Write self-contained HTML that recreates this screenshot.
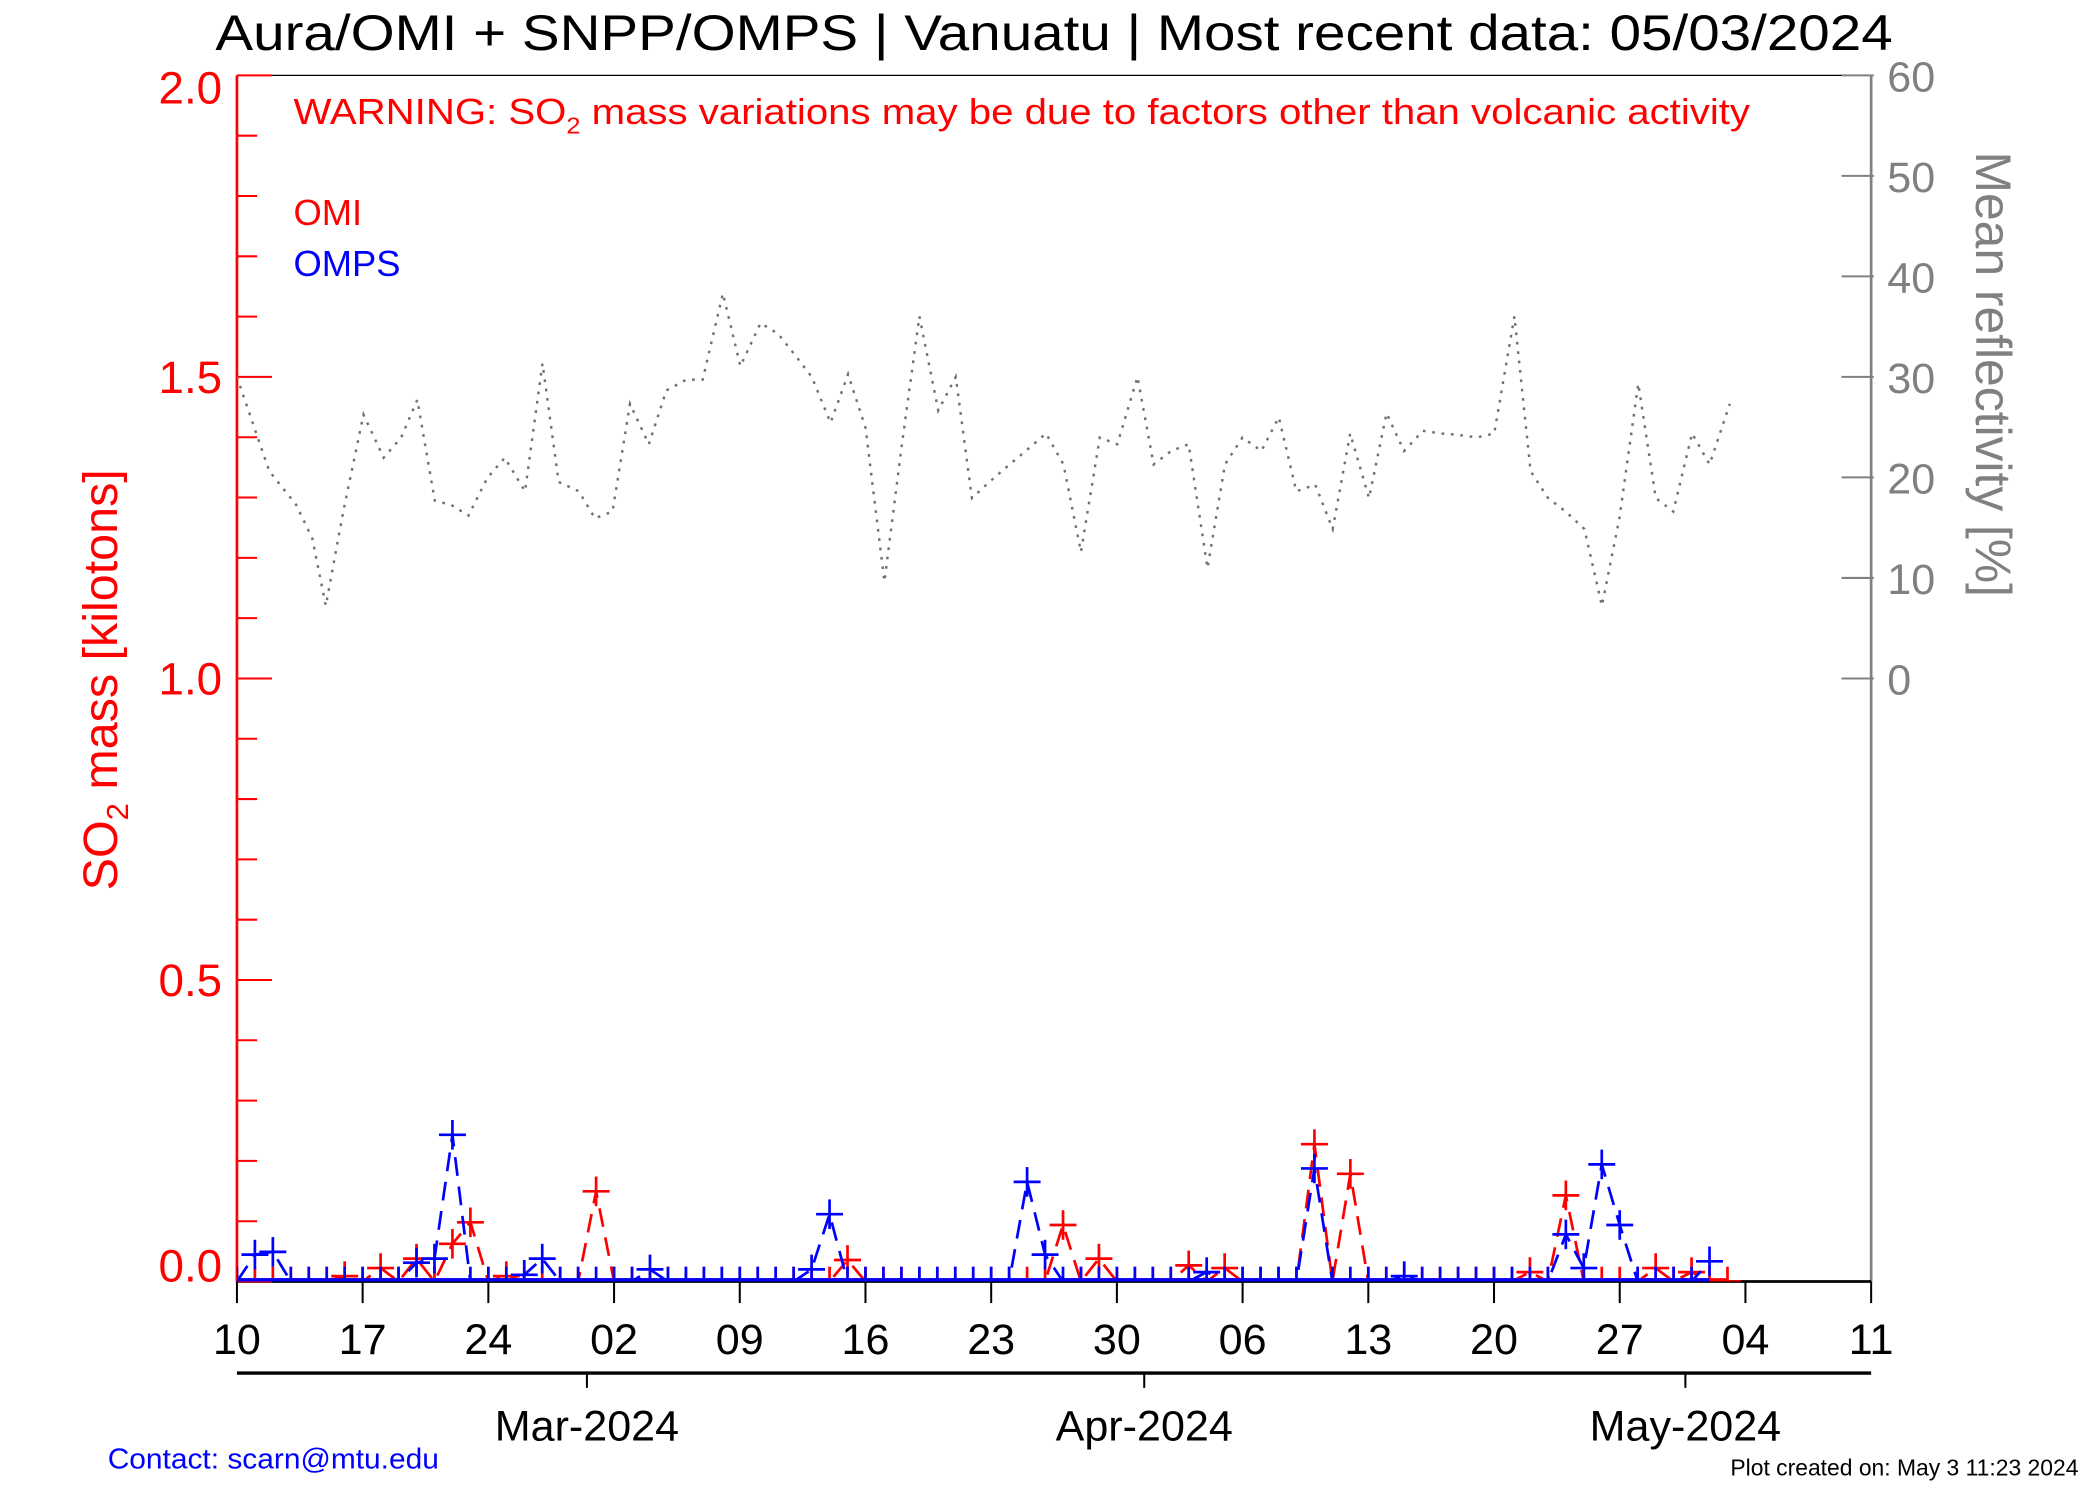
<!DOCTYPE html>
<html><head><meta charset="utf-8"><style>
html,body{margin:0;padding:0;background:#fff;}
svg{display:block;font-family:"Liberation Sans",sans-serif;}
</style></head><body>
<svg id="s" width="2100" height="1500" viewBox="0 0 1560 1114.3" xmlns="http://www.w3.org/2000/svg">
<defs><clipPath id="c"><rect x="176" y="40" width="1214" height="912"/></clipPath></defs>
<rect width="1560" height="1115" fill="#fff"/>
<text x="160" y="37" font-size="37" textLength="1246" lengthAdjust="spacingAndGlyphs" fill="#000">Aura/OMI + SNPP/OMPS | Vanuatu | Most recent data: 05/03/2024</text>
<g id="axes"></g>
<g id="data" clip-path="url(#c)"></g>
<text x="218" y="92" font-size="27" textLength="1082" lengthAdjust="spacingAndGlyphs" fill="#f00">WARNING: SO<tspan font-size="17" dy="7">2</tspan><tspan dy="-7"> mass variations may be due to factors other than volcanic activity</tspan></text>
<text x="218" y="167" font-size="27" fill="#f00">OMI</text>
<text x="218" y="205" font-size="27" fill="#00f">OMPS</text>
<text transform="translate(87,505) rotate(-90)" font-size="36" text-anchor="middle" fill="#f00">SO<tspan font-size="23" dy="8">2</tspan><tspan dy="-8"> mass [kilotons]</tspan></text>
<text transform="translate(1468,278) rotate(90)" font-size="37" text-anchor="middle" fill="#808080">Mean reflectivity [%]</text>
<text x="80" y="1091" font-size="21" textLength="246" lengthAdjust="spacingAndGlyphs" fill="#00f">Contact: scarn@mtu.edu</text>
<text x="1544" y="1096" font-size="17" text-anchor="end" fill="#000">Plot created on: May  3 11:23 2024</text>
</svg>
<script>
var NS="http://www.w3.org/2000/svg";
function el(p,t,a,txt){var e=document.createElementNS(NS,t);for(var k in a)e.setAttribute(k,a[k]);if(txt!==undefined)e.textContent=txt;p.appendChild(e);return e;}
var ax=document.getElementById('axes'),dg=document.getElementById('data');
var X0=176,X1=1390,Y0=952,pd=(X1-X0)/91;
el(ax,'line',{x1:X0,y1:56,x2:X1,y2:56,stroke:'#000','stroke-width':1});
el(ax,'line',{x1:X1,y1:56,x2:X1,y2:Y0,stroke:'#808080','stroke-width':2});
el(ax,'line',{x1:X0,y1:Y0,x2:X1,y2:Y0,stroke:'#000','stroke-width':2});
el(ax,'line',{x1:X0,y1:56,x2:X0,y2:Y0,stroke:'#f00','stroke-width':2});
for(var i=0;i<=20;i++){var y=Y0-i*44.8;var L=(i%5==0)?26:15;el(ax,'line',{x1:X0,y1:y,x2:X0+L,y2:y,stroke:'#f00','stroke-width':1.5});}
[["2.0",65],["1.5",280],["1.0",504],["0.5",728],["0.0",940]].forEach(function(a){el(ax,'text',{x:165,y:a[1]+12,'font-size':34,'text-anchor':'end',fill:'#f00'},a[0]);});
for(var r=0;r<=60;r+=10){var y=504-r*7.467;el(ax,'line',{x1:X1-22,y1:y,x2:X1+2,y2:y,stroke:'#808080','stroke-width':1.5});el(ax,'text',{x:1402,y:y+12,'font-size':32,fill:'#808080'},String(r));}
var lab=["10","17","24","02","09","16","23","30","06","13","20","27","04","11"];
for(var i=0;i<14;i++){var x=X0+i*7*pd;el(ax,'line',{x1:x,y1:Y0,x2:x,y2:Y0+16,stroke:'#000','stroke-width':1.5});el(ax,'text',{x:x,y:1006,'font-size':32,'text-anchor':'middle'},lab[i]);}
el(ax,'line',{x1:X0,y1:1020,x2:X1,y2:1020,stroke:'#000','stroke-width':2.5});
[["Mar-2024",436],["Apr-2024",850],["May-2024",1252]].forEach(function(a){el(ax,'line',{x1:a[1],y1:1020,x2:a[1],y2:1031,stroke:'#000','stroke-width':1.5});el(ax,'text',{x:a[1],y:1070,'font-size':32,'text-anchor':'middle'},a[0]);});
var refl=[[176,280],[200,350],[220,375],[232,400],[242,450],[255,380],[270,308],[285,340],[298,325],[310,297],[323,372],[335,375],[348,383],[362,355],[375,340],[390,365],[403,270],[415,358],[430,365],[442,385],[455,380],[468,300],[482,330],[495,290],[510,282],[522,282],[537,218],[550,272],[565,240],[578,248],[590,263],[603,280],[617,314],[630,278],[643,318],[657,432],[670,330],[683,235],[697,305],[710,280],[722,370],[735,358],[750,345],[762,335],[777,322],[790,345],[803,410],[817,325],[830,330],[845,280],[857,345],[870,335],[883,330],[897,422],[910,345],[923,325],[937,335],[950,310],[963,365],[977,360],[990,393],[1003,322],[1017,370],[1030,307],[1043,335],[1057,320],[1070,322],[1083,323],[1097,325],[1110,322],[1125,235],[1137,350],[1150,370],[1163,380],[1177,393],[1190,450],[1203,385],[1217,285],[1230,370],[1243,380],[1257,322],[1270,345],[1285,300]];
el(dg,'polyline',{points:refl.map(function(p){return p.join(',')}).join(' '),fill:'none',stroke:'#707070','stroke-width':1.8,'stroke-dasharray':'2 5'});
function series(peaks,col,n){var pts=[];for(var d=0;d<=n;d++){var y=peaks[d]!==undefined?peaks[d]:Y0;pts.push([X0+d*pd,y]);}
el(dg,'polyline',{points:pts.map(function(p){return p.join(',')}).join(' '),fill:'none',stroke:col,'stroke-width':2,'stroke-dasharray':'14 8'});
el(dg,'line',{x1:X0,y1:Y0-1,x2:X0+n*pd,y2:Y0-1,stroke:col,'stroke-width':3});
pts.forEach(function(p){el(dg,'line',{x1:p[0]-10,y1:p[1],x2:p[0]+10,y2:p[1],stroke:col,'stroke-width':2});el(dg,'line',{x1:p[0],y1:p[1]-11,x2:p[0],y2:p[1]+11,stroke:col,'stroke-width':2});});}
series({6:948,8:942,10:935,12:924,13:908,15:948,20:885,34:936,46:910,48:935,53:940,55:942,60:850,62:872,72:945,74:888,79:942,81:945},'#f00',83);
series({1:932,2:930,10:938,11:935,12:843,16:947,17:935,23:943,32:943,33:902,44:878,45:932,54:945,60:868,65:948,74:917,75:942,76:865,77:910,82:937},'#00f',82);
</script>
</body></html>
